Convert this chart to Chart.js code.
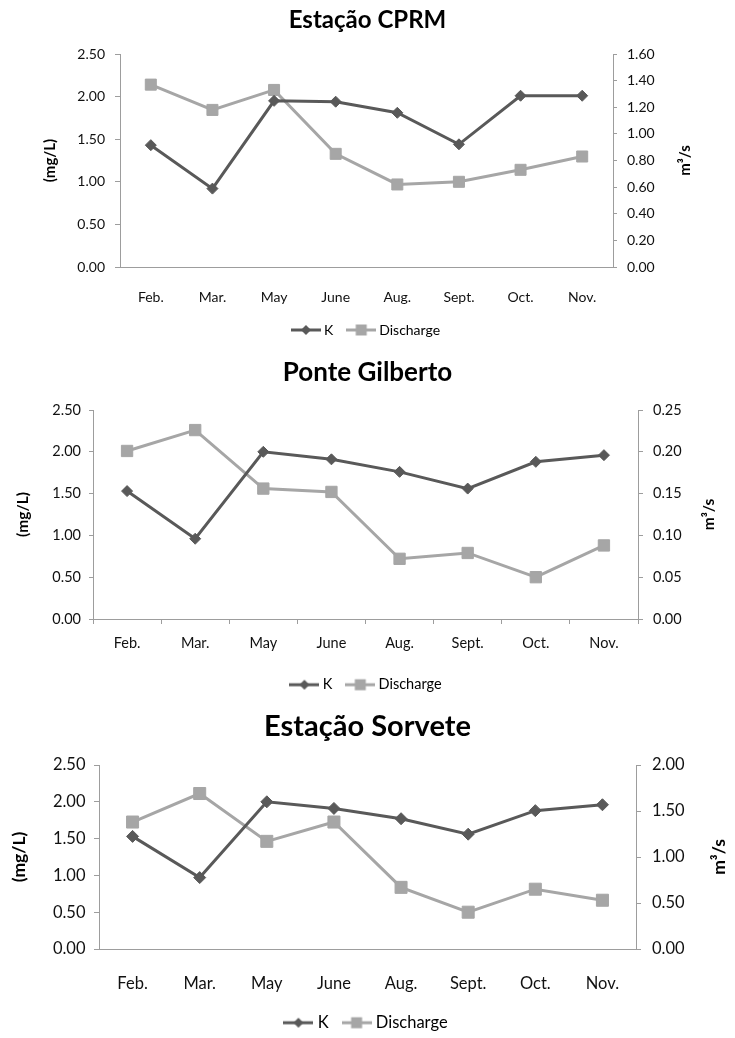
<!DOCTYPE html>
<html>
<head>
<meta charset="utf-8">
<title>K and discharge</title>
<script src="https://cdn.jsdelivr.net/npm/chart.js@4.4.1/dist/chart.umd.min.js"></script>
<style>
    html, body { margin: 0; padding: 0; background: #fff; overflow: hidden; }
    body { width: 735px; height: 1038px; position: relative; }
    .box { position: absolute; left: 0; width: 735px; }
</style>
</head>
<body>
<div class="box" style="top:0;height:347px"><canvas id="chartCprm"></canvas></div>
<div class="box" style="top:345px;height:357px"><canvas id="chartGilberto"></canvas></div>
<div class="box" style="top:700px;height:341px"><canvas id="chartSorvete"></canvas></div>
<script>
// months sampled
var months = ['Feb.', 'Mar.', 'May', 'June', 'Aug.', 'Sept.', 'Oct.', 'Nov.'];

// K (mg/L) and discharge (m3/s) per station
var kCprm = [1.43, 0.92, 1.95, 1.94, 1.81, 1.44, 2.01, 2.01];
var qCprm = [1.37, 1.18, 1.33, 0.85, 0.62, 0.64, 0.73, 0.83];
var kGilberto = [1.53, 0.96, 2.00, 1.91, 1.76, 1.56, 1.88, 1.96];
var qGilberto = [0.201, 0.226, 0.156, 0.152, 0.072, 0.079, 0.050, 0.088];
var kSorvete = [1.53, 0.97, 2.00, 1.91, 1.77, 1.56, 1.88, 1.96];
var qSorvete = [1.38, 1.69, 1.17, 1.38, 0.67, 0.40, 0.65, 0.53];

// tick labels
var mgTicks = [0, 0.5, 1, 1.5, 2, 2.5];
var cprmFlowTicks = [0, 0.2, 0.4, 0.6, 0.8, 1.0, 1.2, 1.4, 1.6];
var gilbertoFlowTicks = [0, 0.05, 0.10, 0.15, 0.20, 0.25];
var sorveteFlowTicks = [0, 0.5, 1.0, 1.5, 2.0];

var FONT = 'Lato';
var K_COLOR = '#595959';
var Q_COLOR = '#a6a6a6';
var AXIS_COLOR = '#9d9d9d';

// little line+marker pictures for the legend, like Excel's
function legendIcon(color, shape) {
    var c = document.createElement('canvas');
    c.width = 30; c.height = 14;
    var g = c.getContext('2d');
    g.strokeStyle = color; g.fillStyle = color; g.lineWidth = 3;
    g.beginPath(); g.moveTo(0, 7); g.lineTo(30, 7); g.stroke();
    g.beginPath();
    if (shape == 'diamond') {
        g.moveTo(15, 2); g.lineTo(20, 7); g.lineTo(15, 12); g.lineTo(10, 7);
    } else {
        g.rect(9.5, 1.5, 11, 11);
    }
    g.closePath(); g.fill();
    return c;
}
var legendIcons = [legendIcon(K_COLOR, 'diamond'), legendIcon(Q_COLOR, 'square')];

// right axis title reads bottom to top, as in the original
var rightTitlePlugin = {
    id: 'rightTitle',
    afterDraw: function (chart, args, opts) {
        var ctx = chart.ctx, area = chart.chartArea;
        ctx.save();
        ctx.translate(opts.x, (area.top + area.bottom) / 2);
        ctx.rotate(-Math.PI / 2);
        ctx.font = 'bold ' + opts.size + 'px ' + FONT;
        ctx.fillStyle = '#000';
        ctx.textAlign = 'center';
        ctx.textBaseline = 'middle';
        ctx.fillText(opts.text, 0, 0);
        ctx.restore();
    }
};

function fixedTicks(arr) {
    return function (s) { s.ticks = arr.map(function (v) { return { value: v }; }); };
}

function makeChart(id, title, kData, qData, qTicks, L) {
    return new Chart(document.getElementById(id), {
        type: 'line',
        data: {
            labels: months,
            datasets: [
                {
                    label: 'K', data: kData, yAxisID: 'y',
                    borderColor: K_COLOR, backgroundColor: K_COLOR, borderWidth: 3,
                    pointStyle: 'rectRot', pointRadius: L.kRadius, pointHoverRadius: L.kRadius,
                    pointBackgroundColor: K_COLOR, pointBorderColor: K_COLOR, pointBorderWidth: 1,
                    tension: 0
                },
                {
                    label: 'Discharge', data: qData, yAxisID: 'y1',
                    borderColor: Q_COLOR, backgroundColor: Q_COLOR, borderWidth: 3,
                    pointStyle: 'rect', pointRadius: L.qRadius, pointHoverRadius: L.qRadius,
                    pointBackgroundColor: Q_COLOR, pointBorderColor: Q_COLOR, pointBorderWidth: 1,
                    tension: 0
                }
            ]
        },
        options: {
            responsive: true,
            maintainAspectRatio: false,
            animation: false,
            layout: { padding: 0 },
            scales: {
                x: {
                    offset: true,
                    grid: {
                        display: L.xTicks, offset: true, drawOnChartArea: false,
                        drawTicks: true, tickLength: 5, color: AXIS_COLOR
                    },
                    border: { display: true, color: AXIS_COLOR, width: 1 },
                    ticks: { font: { family: FONT, size: L.font }, color: '#111', padding: L.xPad, maxRotation: 0 },
                    afterFit: function (s) { s.height = L.xHeight; }
                },
                y: {
                    position: 'left',
                    min: mgTicks[0], max: mgTicks[mgTicks.length - 1],
                    afterBuildTicks: fixedTicks(mgTicks),
                    grid: { drawOnChartArea: false, drawTicks: true, tickLength: L.yTickL[0], color: AXIS_COLOR },
                    border: { display: true, color: AXIS_COLOR, width: 1 },
                    ticks: {
                        font: { family: FONT, size: L.font }, color: '#111', padding: L.yTickL[1],
                        callback: function (v) { return Number(v).toFixed(2); }
                    },
                    title: {
                        display: true, text: '(mg/L)', color: '#000',
                        font: { family: FONT, size: L.axisFont, weight: 'bold' },
                        padding: { top: L.leftTitlePad, bottom: 0 }
                    },
                    afterFit: function (s) { s.width = L.left; }
                },
                y1: {
                    position: 'right',
                    min: qTicks[0], max: qTicks[qTicks.length - 1],
                    afterBuildTicks: fixedTicks(qTicks),
                    grid: { drawOnChartArea: false, drawTicks: true, tickLength: L.yTickR[0], color: AXIS_COLOR },
                    border: { display: true, color: AXIS_COLOR, width: 1 },
                    ticks: {
                        font: { family: FONT, size: L.font }, color: '#111', padding: L.yTickR[1],
                        callback: function (v) { return Number(v).toFixed(2); }
                    },
                    afterFit: function (s) { s.width = 735 - L.right; }
                }
            },
            plugins: {
                title: {
                    display: true, text: title, color: '#000',
                    font: { family: FONT, size: L.titleFont, weight: 'bold' },
                    padding: { top: L.titlePad[0], bottom: L.titlePad[1] }
                },
                legend: {
                    position: 'bottom',
                    labels: {
                        usePointStyle: true, pointStyleWidth: 22, padding: 17,
                        color: '#000', font: { family: FONT, size: L.font },
                        generateLabels: function (chart) {
                            var items = Chart.defaults.plugins.legend.labels.generateLabels(chart);
                            items.forEach(function (it, i) { it.pointStyle = legendIcons[i]; });
                            return items;
                        }
                    }
                },
                tooltip: { enabled: false },
                rightTitle: { text: 'm³/s', x: L.rightTitleX, size: L.axisFont }
            }
        },
        plugins: [rightTitlePlugin]
    });
}

makeChart('chartCprm', 'Estação CPRM', kCprm, qCprm, cprmFlowTicks, {
    left: 120, right: 613, font: 14, titleFont: 24, titlePad: [5.6, 19.6],
    axisFont: 15, leftTitlePad: 41, rightTitleX: 685,
    xHeight: 39, xPad: 16.6, xTicks: false, yTickL: [5, 10], yTickR: [4, 10],
    kRadius: 5.5, qRadius: 7.8
});

makeChart('chartGilberto', 'Ponte Gilberto', kGilberto, qGilberto, gilbertoFlowTicks, {
    left: 93, right: 638, font: 14.5, titleFont: 26, titlePad: [12.4, 21.4],
    axisFont: 15.5, leftTitlePad: 13.7, rightTitleX: 709,
    xHeight: 41.5, xPad: 10.3, xTicks: true, yTickL: [4, 8], yTickR: [5, 10],
    kRadius: 5.5, qRadius: 8
});

makeChart('chartSorvete', 'Estação Sorvete', kSorvete, qSorvete, sorveteFlowTicks, {
    left: 99, right: 636, font: 16.5, titleFont: 29, titlePad: [9.6, 20.6],
    axisFont: 17.5, leftTitlePad: 8.5, rightTitleX: 719,
    xHeight: 48.5, xPad: 20, xTicks: false, yTickL: [5, 8.5], yTickR: [5, 11],
    kRadius: 6, qRadius: 8.5
});
</script>
</body>
</html>
